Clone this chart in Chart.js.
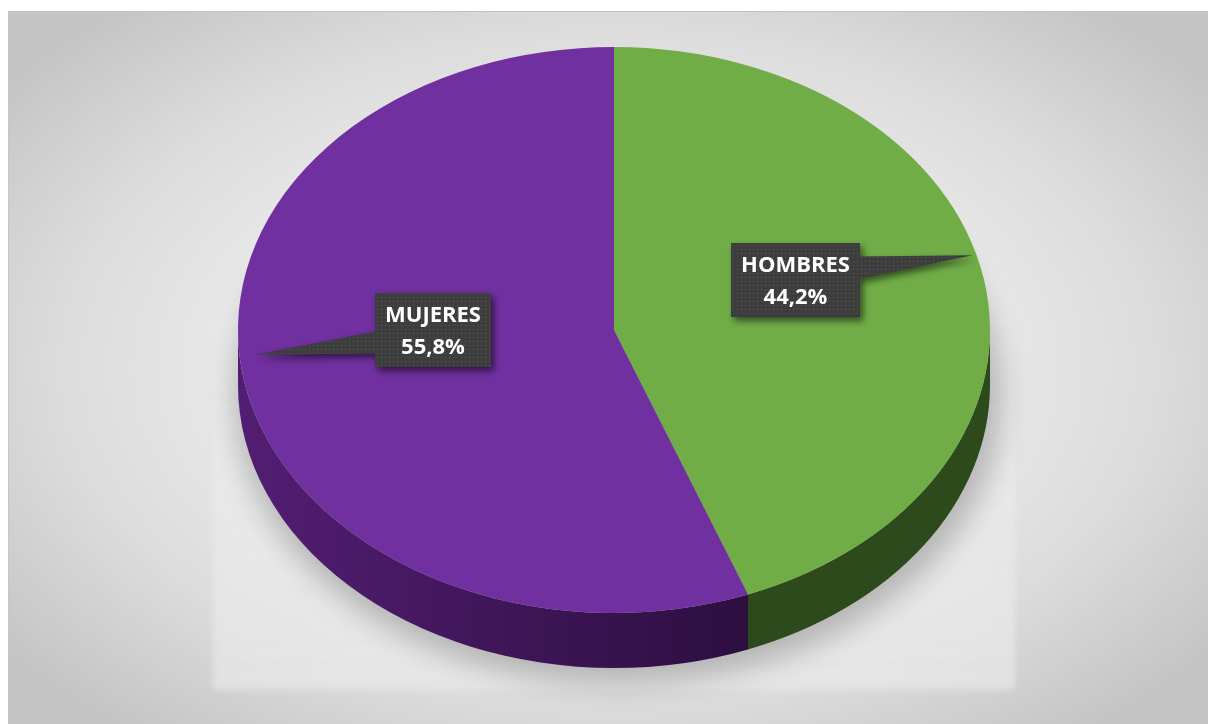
<!DOCTYPE html>
<html><head><meta charset="utf-8">
<script src="https://cdn.jsdelivr.net/npm/chart.js@4.4.0/dist/chart.umd.min.js"></script>
<style>
html,body{margin:0;padding:0;background:#fff;overflow:hidden}
#wrap{position:absolute;left:0;top:0;width:1208px;height:724px}
</style></head><body>
<div id="wrap"><canvas id="c" width="1208" height="724"></canvas></div>
<script>
// ---- data ----
const categories = ['HOMBRES', 'MUJERES'];
const values = [44.2, 55.8];
// ---- styles ----
const topColors = ['#70AD47', '#7030A0'];
const sideColors = ['#2C4A1C', ['#521E73', '#2C0E3E']];
const PIE = { cx: 614, cy: 330, rx: 376, ry: 283, depth: 55 };
const FONT = 'bold 22px "Open Sans"';

function makePattern(ctx) {
  const p = document.createElement('canvas'); p.width = 4; p.height = 4;
  const g = p.getContext('2d');
  g.fillStyle = '#3d3d3d'; g.fillRect(0, 0, 4, 4);
  g.fillStyle = '#5a5a5a'; g.fillRect(1, 1, 1, 1);
  return ctx.createPattern(p, 'repeat');
}

const bgPlugin = {
  id: 'bg',
  beforeDraw(chart) {
    const ctx = chart.ctx;
    ctx.save();
    ctx.fillStyle = '#ffffff';
    ctx.fillRect(0, 0, chart.width, chart.height);
    const x0 = 8, y0 = 11, x1 = chart.width, y1 = chart.height;
    const gcx = 608, gcy = 367;
    ctx.save();
    ctx.beginPath(); ctx.rect(x0, y0, x1 - x0, y1 - y0); ctx.clip();
    ctx.translate(gcx, gcy); ctx.scale(1, 0.62);
    const grad = ctx.createRadialGradient(0, 0, 0, 0, 0, 760);
    grad.addColorStop(0, '#f4f4f4');
    grad.addColorStop(0.4, '#ededed');
    grad.addColorStop(0.72, '#dcdcdc');
    grad.addColorStop(1, '#c4c4c4');
    ctx.fillStyle = grad;
    ctx.fillRect(-1000, -1000, 2000, 2000);
    ctx.restore();
    ctx.strokeStyle = '#c6c6c6'; ctx.lineWidth = 1;
    ctx.beginPath(); ctx.moveTo(x0 + 0.5, y1); ctx.lineTo(x0 + 0.5, y0 + 0.5); ctx.lineTo(x1, y0 + 0.5); ctx.stroke();
    // soft light plate behind the pie
    ctx.save();
    ctx.filter = 'blur(3px)';
    const lg = ctx.createLinearGradient(0, 280, 0, 690);
    lg.addColorStop(0, 'rgba(238,238,238,0)');
    lg.addColorStop(0.35, 'rgba(237,237,237,0.55)');
    lg.addColorStop(1, 'rgba(236,236,236,0.6)');
    ctx.fillStyle = lg;
    ctx.fillRect(213, 280, 802, 410);
    ctx.restore();
    // shadow of the pie
    ctx.save();
    ctx.filter = 'blur(14px)';
    ctx.fillStyle = 'rgba(0,0,0,0.22)';
    ctx.beginPath();
    ctx.ellipse(PIE.cx + 4, PIE.cy + PIE.depth + 12, PIE.rx + 8, PIE.ry + 4, 0, 0, Math.PI * 2);
    ctx.fill();
    ctx.restore();
    ctx.restore();
  }
};

const pie3d = {
  id: 'pie3d',
  beforeDatasetsDraw(chart) {
    const ctx = chart.ctx;
    const meta = chart.getDatasetMeta(0);
    const { cx, cy, rx, ry, depth } = PIE;
    meta.data.forEach((el, i) => {
      const a0 = Math.max(el.startAngle, 0), a1 = Math.min(el.endAngle, Math.PI);
      if (a1 <= a0) return;
      ctx.save();
      const sc = sideColors[i];
      if (Array.isArray(sc)) {
        const g = ctx.createLinearGradient(cx - rx, 0, cx + rx * 0.4, 0);
        g.addColorStop(0, sc[0]); g.addColorStop(1, sc[1]);
        ctx.fillStyle = g;
      } else ctx.fillStyle = sc;
      ctx.beginPath();
      ctx.ellipse(cx, cy, rx, ry, 0, a0, a1, false);
      ctx.ellipse(cx, cy + depth, rx, ry, 0, a1, a0, true);
      ctx.closePath();
      ctx.fill();
      ctx.restore();
    });
    const el0 = meta.data[0];
    const R = el0.outerRadius;
    ctx.save();
    ctx.translate(cx, cy);
    ctx.scale(rx / R, ry / R);
    ctx.translate(-el0.x, -el0.y);
  },
  afterDatasetsDraw(chart) {
    const ctx = chart.ctx;
    ctx.restore();
    const meta = chart.getDatasetMeta(0);
    const { cx, cy, rx, ry } = PIE;
    const pat = makePattern(ctx);
    meta.data.forEach((el, i) => {
      const mid = (el.startAngle + el.endAngle) / 2;
      const bx = cx + 0.49 * rx * Math.cos(mid);
      const by = cy + 0.49 * ry * Math.sin(mid) - 25;
      const tx = cx + 0.97 * rx * Math.cos(mid);
      const ty = cy + 0.97 * ry * Math.sin(mid) - 25;
      const l1 = categories[i];
      const l2 = values[i].toFixed(1).replace('.', ',') + '%';
      ctx.save();
      ctx.font = FONT;
      const w = Math.round(Math.max(ctx.measureText(l1).width, ctx.measureText(l2).width) + 20);
      const h = 74;
      const left = Math.round(bx - w / 2), top = Math.round(by - h / 2);
      const bc = ty + (by - ty) * 0.5;
      const b0 = bc - 11, b1 = bc + 11;
      ctx.beginPath();
      if (tx > bx) {
        ctx.moveTo(left, top); ctx.lineTo(left + w, top); ctx.lineTo(left + w, b0);
        ctx.lineTo(tx, ty); ctx.lineTo(left + w, b1); ctx.lineTo(left + w, top + h);
        ctx.lineTo(left, top + h);
      } else {
        ctx.moveTo(left, top); ctx.lineTo(left + w, top); ctx.lineTo(left + w, top + h);
        ctx.lineTo(left, top + h); ctx.lineTo(left, b1); ctx.lineTo(tx, ty); ctx.lineTo(left, b0);
      }
      ctx.closePath();
      ctx.shadowColor = 'rgba(0,0,0,0.55)';
      ctx.shadowBlur = 7; ctx.shadowOffsetX = 3; ctx.shadowOffsetY = 4;
      ctx.fillStyle = pat;
      ctx.fill();
      ctx.shadowColor = 'transparent';
      ctx.fillStyle = '#ffffff';
      ctx.textAlign = 'center';
      ctx.textBaseline = 'alphabetic';
      ctx.fillText(l1, left + w / 2, top + h / 2 - 8);
      ctx.fillText(l2, left + w / 2, top + h / 2 + 24);
      ctx.restore();
    });
  }
};

new Chart(document.getElementById('c'), {
  type: 'pie',
  data: {
    labels: categories,
    datasets: [{ data: values, backgroundColor: topColors, borderWidth: 0, clip: false }]
  },
  options: {
    responsive: false,
    animation: false,
    events: [],
    layout: { padding: { left: 20, right: 0, top: 0, bottom: 64 } },
    plugins: { legend: { display: false }, tooltip: { enabled: false } }
  },
  plugins: [bgPlugin, pie3d]
});
</script>
</body></html>
